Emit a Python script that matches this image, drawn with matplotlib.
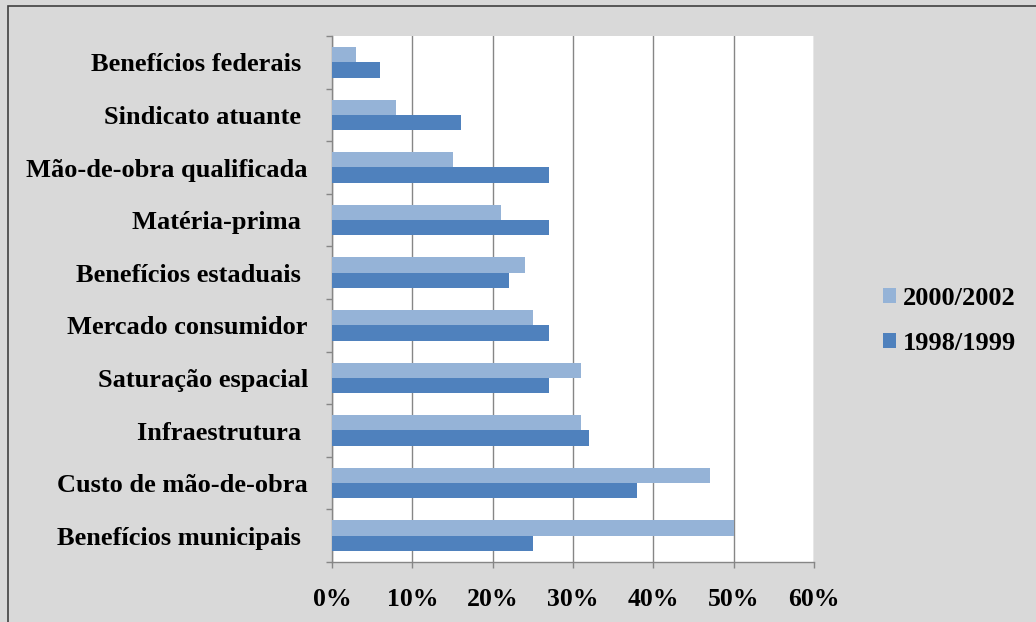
import matplotlib
matplotlib.use("Agg")
import matplotlib.pyplot as plt
import numpy as np
from matplotlib.patches import Rectangle

categories = ["Benefícios municipais ", "Custo de mão-de-obra", "Infraestrutura ",
              "Saturação espacial", "Mercado consumidor", "Benefícios estaduais ",
              "Matéria-prima ", "Mão-de-obra qualificada", "Sindicato atuante ",
              "Benefícios federais "]
s2000 = [50, 47, 31, 31, 25, 24, 21, 15, 8, 3]
s1998 = [25, 38, 32, 27, 27, 22, 27, 27, 16, 6]
xticks = [0, 10, 20, 30, 40, 50, 60]
xticklabels = ["0%", "10%", "20%", "30%", "40%", "50%", "60%"]

light = "#95b3d7"
dark = "#4f81bd"
bg = "#d9d9d9"
grid = "#868686"

plt.rcParams['font.family'] = ['Liberation Serif', 'DejaVu Serif']
plt.rcParams['font.weight'] = 'bold'

fig = plt.figure(figsize=(10.36, 6.22), dpi=100)
fig.patch.set_facecolor(bg)
fig.patches.append(Rectangle((8/1036, -0.1), 1.1, (622-6)/622 + 0.1, transform=fig.transFigure,
                             fill=False, edgecolor="#404040", linewidth=1.2))

ax = fig.add_axes([332/1036, 1-562/622, (814-332)/1036, (562-36)/622])
ax.set_facecolor("white")

y = np.arange(len(categories))
h = 0.29
ax.barh(y + h/2, s2000, height=h, color=light, label="2000/2002", zorder=3)
ax.barh(y - h/2, s1998, height=h, color=dark, label="1998/1999", zorder=3)

ax.set_xlim(0, 60)
ax.set_ylim(-0.5, len(categories) - 0.5)
ax.set_xticks(xticks)
ax.set_xticklabels(xticklabels, fontsize=18.5, fontweight='bold')
ax.set_yticks(y)
ax.set_yticklabels(categories, fontsize=19, fontweight='bold')
ax.set_yticks(np.arange(len(categories) + 1) - 0.5, minor=True)
ax.tick_params(axis='y', which='major', length=0, pad=17.3)
ax.tick_params(axis='y', which='minor', length=4.5, color=grid, width=1)
ax.tick_params(axis='x', which='major', length=4.5, color=grid, width=1, pad=14)
ax.xaxis.grid(True, color=grid, linewidth=1, zorder=0)
ax.set_axisbelow(True)
for side in ["top", "right"]:
    ax.spines[side].set_visible(False)
for side in ["left", "bottom"]:
    ax.spines[side].set_color(grid)
    ax.spines[side].set_linewidth(1)

handles, labels = ax.get_legend_handles_labels()
leg = fig.legend(handles, labels, loc="center left", bbox_to_anchor=(883/1036, 1-321/622),
                 frameon=False, borderpad=0, borderaxespad=0,
                 prop={'family': 'Liberation Serif', 'weight': 'bold', 'size': 19},
                 handlelength=0.5, handleheight=0.5, handletextpad=0.25, labelspacing=0.85)

fig.savefig("out.png", dpi=100, facecolor=bg)
